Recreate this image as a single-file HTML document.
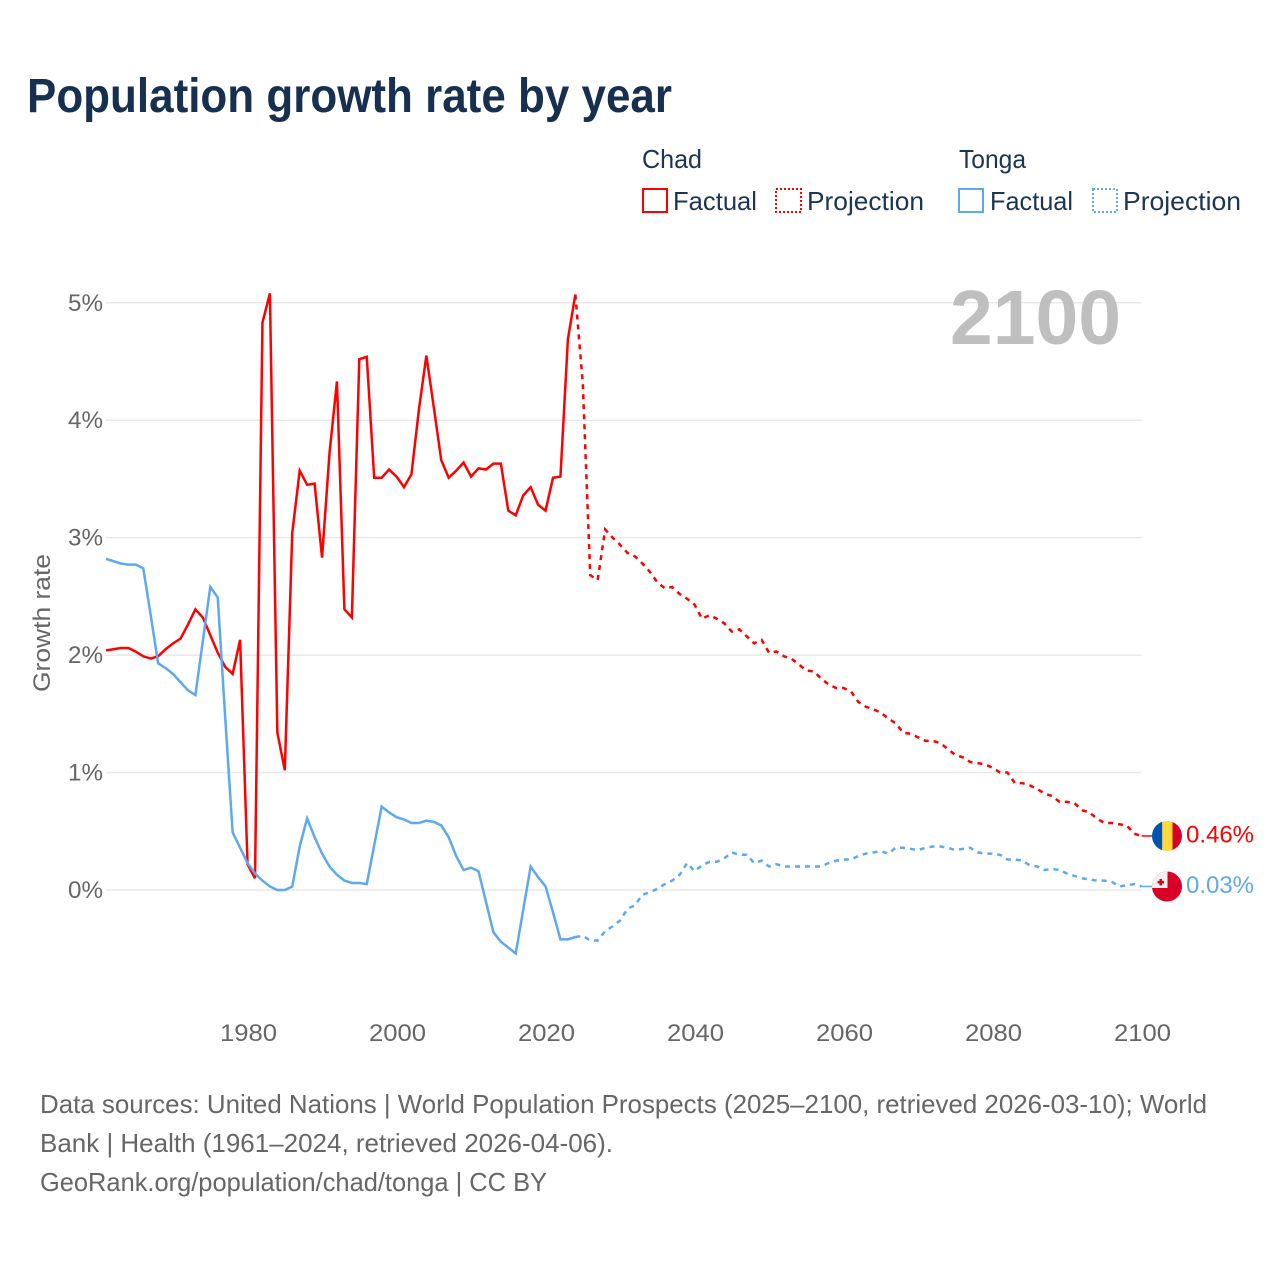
<!DOCTYPE html>
<html lang="en">
<head>
<meta charset="utf-8">
<title>Population growth rate by year</title>
<style>
html,body{margin:0;padding:0;background:#fff;}
svg{display:block;font-family:"Liberation Sans",sans-serif;}
</style>
</head>
<body>
<svg id="chart" xmlns="http://www.w3.org/2000/svg" width="1280" height="1280" viewBox="0 0 1280 1280">
  <defs>
    <clipPath id="flag-clip-chad"><circle id="clip-chad" cx="1167" cy="836" r="15"/></clipPath>
    <clipPath id="flag-clip-tonga"><circle id="clip-tonga" cx="1167" cy="886" r="15"/></clipPath>
  </defs>
  <rect x="0" y="0" width="1280" height="1280" fill="#ffffff"/>
  <text x="27" y="112" font-size="48" font-weight="700" fill="#17304f" textLength="645" lengthAdjust="spacingAndGlyphs">Population growth rate by year</text>

  <g font-size="26" fill="#1b3553">
    <text x="642" y="168" textLength="60" lengthAdjust="spacingAndGlyphs">Chad</text>
    <rect x="643" y="189" width="24" height="23" fill="none" stroke="#ff0000" stroke-width="2"/>
    <text x="673" y="210" textLength="84" lengthAdjust="spacingAndGlyphs">Factual</text>
    <rect x="776" y="189" width="25" height="23" fill="none" stroke="#ff0000" stroke-width="2" stroke-dasharray="2 2"/>
    <text x="807" y="210" textLength="117" lengthAdjust="spacingAndGlyphs">Projection</text>
    <text x="959" y="168" textLength="67" lengthAdjust="spacingAndGlyphs">Tonga</text>
    <rect x="959" y="189" width="24" height="23" fill="none" stroke="#5ea8ee" stroke-width="2"/>
    <text x="990" y="210" textLength="83" lengthAdjust="spacingAndGlyphs">Factual</text>
    <rect x="1093" y="189" width="24" height="23" fill="none" stroke="#5ea8ee" stroke-width="2" stroke-dasharray="2 2"/>
    <text x="1123" y="210" textLength="118" lengthAdjust="spacingAndGlyphs">Projection</text>
  </g>

  <g id="grid"></g>
  <g id="y-labels"></g>
  <g id="x-labels"></g>

  <text transform="translate(50,623) rotate(-90)" text-anchor="middle" font-size="24" fill="#666666" textLength="138" lengthAdjust="spacingAndGlyphs">Growth rate</text>
  <text x="950" y="344" font-size="77" font-weight="700" fill="#bfbfbf" textLength="171" lengthAdjust="spacingAndGlyphs">2100</text>

  <g id="series"></g>

  <g id="flag-chad" clip-path="url(#flag-clip-chad)">
    <rect class="flag-part" data-h="30" data-dy="-15" x="1152" width="10.3" height="30" fill="#0052b4"/>
    <rect class="flag-part" data-h="30" data-dy="-15" x="1162.3" width="10.2" height="30" fill="#ffd83c"/>
    <rect class="flag-part" data-h="30" data-dy="-15" x="1172.5" width="10" height="30" fill="#d80027"/>
  </g>
  <g id="flag-tonga" clip-path="url(#flag-clip-tonga)">
    <rect class="flag-part" data-dy="-15" x="1152" width="30" height="30" fill="#d80027"/>
    <rect class="flag-part" data-dy="-15" x="1152" width="15.5" height="16.5" fill="#f0f0f0"/>
    <rect class="flag-part" data-dy="-7.5" x="1159.5" width="2.6" height="6.4" fill="#d80027"/>
    <rect class="flag-part" data-dy="-5.6" x="1157.6" width="6.4" height="2.6" fill="#d80027"/>
  </g>

  <text id="label-chad" x="1186" y="842" font-size="24" fill="#ff0000" textLength="68" lengthAdjust="spacingAndGlyphs"></text>
  <text id="label-tonga" x="1186" y="892" font-size="24" fill="#5ea8ee" textLength="68" lengthAdjust="spacingAndGlyphs"></text>

  <g font-size="26" fill="#666666">
    <text x="40" y="1113" textLength="1167" lengthAdjust="spacingAndGlyphs">Data sources: United Nations | World Population Prospects (2025–2100, retrieved 2026-03-10); World</text>
    <text x="40" y="1152" textLength="573" lengthAdjust="spacingAndGlyphs">Bank | Health (1961–2024, retrieved 2026-04-06).</text>
    <text x="40" y="1191" textLength="507" lengthAdjust="spacingAndGlyphs">GeoRank.org/population/chad/tonga | CC BY</text>
  </g>
</svg>

<script>
var factualFirstYear = 1961;
var projectionFirstYear = 2024;

var yTickValues = [0, 1, 2, 3, 4, 5];
var yTickLabels = ["0%", "1%", "2%", "3%", "4%", "5%"];
var xTickYears = [1980, 2000, 2020, 2040, 2060, 2080, 2100];
var xTickLabels = ["1980", "2000", "2020", "2040", "2060", "2080", "2100"];

var chadFactual = [
  2.04, 2.05, 2.06, 2.06, 2.03, 1.99, 1.97, 1.99, 2.05, 2.10,
  2.14, 2.26, 2.39, 2.32, 2.17, 2.02, 1.90, 1.84, 2.13, 0.22,
  0.10, 4.83, 5.08, 1.34, 1.02, 3.04, 3.57, 3.45, 3.46, 2.83,
  3.72, 4.33, 2.39, 2.32, 4.52, 4.54, 3.51, 3.51, 3.58, 3.52,
  3.43, 3.54, 4.09, 4.55, 4.11, 3.66, 3.51, 3.57, 3.64, 3.52,
  3.59, 3.58, 3.63, 3.63, 3.23, 3.19, 3.36, 3.43, 3.28, 3.23,
  3.51, 3.52, 4.69, 5.07
];

var chadProjection = [
  5.07, 4.31, 2.68, 2.64, 3.07, 3.00, 2.94, 2.87, 2.84, 2.78,
  2.71, 2.62, 2.57, 2.58, 2.52, 2.48, 2.43, 2.31, 2.34, 2.31,
  2.27, 2.20, 2.22, 2.16, 2.10, 2.13, 2.02, 2.03, 1.99, 1.97,
  1.92, 1.87, 1.86, 1.80, 1.75, 1.72, 1.72, 1.69, 1.60, 1.56,
  1.54, 1.51, 1.46, 1.42, 1.34, 1.33, 1.30, 1.27, 1.27, 1.25,
  1.20, 1.15, 1.13, 1.09, 1.08, 1.07, 1.04, 1.00, 1.00, 0.91,
  0.91, 0.89, 0.86, 0.82, 0.80, 0.75, 0.75, 0.74, 0.68, 0.66,
  0.61, 0.57, 0.57, 0.56, 0.55, 0.48, 0.46
];

var tongaFactual = [
  2.82, 2.80, 2.78, 2.77, 2.77, 2.74, 2.34, 1.93, 1.89, 1.84,
  1.77, 1.70, 1.66, 2.12, 2.58, 2.49, 1.47, 0.49, 0.36, 0.23,
  0.14, 0.08, 0.03, 0.00, 0.00, 0.03, 0.37, 0.61, 0.45, 0.31,
  0.20, 0.13, 0.08, 0.06, 0.06, 0.05, 0.38, 0.71, 0.66, 0.62,
  0.60, 0.57, 0.57, 0.59, 0.58, 0.55, 0.45, 0.29, 0.17, 0.19,
  0.16, -0.10, -0.36, -0.44, -0.49, -0.54, -0.17, 0.20, 0.11, 0.03,
  -0.19, -0.42, -0.42, -0.40
];

var tongaProjection = [
  -0.40, -0.39, -0.43, -0.43, -0.35, -0.31, -0.26, -0.16, -0.13, -0.04,
  -0.02, 0.01, 0.05, 0.08, 0.13, 0.23, 0.16, 0.21, 0.24, 0.24,
  0.27, 0.32, 0.30, 0.30, 0.23, 0.25, 0.20, 0.22, 0.20, 0.20,
  0.20, 0.20, 0.20, 0.20, 0.23, 0.25, 0.26, 0.26, 0.29, 0.31,
  0.32, 0.33, 0.31, 0.36, 0.36, 0.35, 0.34, 0.36, 0.37, 0.37,
  0.36, 0.34, 0.35, 0.36, 0.32, 0.31, 0.31, 0.30, 0.26, 0.26,
  0.25, 0.21, 0.20, 0.17, 0.18, 0.17, 0.14, 0.12, 0.10, 0.09,
  0.08, 0.08, 0.07, 0.03, 0.04, 0.05, 0.03
];

var SVG_NS = "http://www.w3.org/2000/svg";
var COLOR_CHAD = "#ff0000";
var COLOR_TONGA = "#5ea8ee";

function xScale(year) {
  return 106 + (year - 1961) * 7.45;
}
function yScale(value) {
  return 890 - value * 117.45;
}
function linePath(values, firstYear) {
  var d = "";
  for (var i = 0; i < values.length; i++) {
    d += (i === 0 ? "M" : "L") + xScale(firstYear + i).toFixed(2) + " " + yScale(values[i]).toFixed(2);
  }
  return d;
}
function styleLine(el, color, dash) {
  el.setAttribute("fill", "none");
  el.setAttribute("stroke", color);
  el.setAttribute("stroke-width", "2.5");
  el.setAttribute("stroke-linejoin", "miter");
  if (dash) {
    el.setAttribute("stroke-dasharray", dash);
  }
}

var gridGroup = document.getElementById("grid");
var yLabelGroup = document.getElementById("y-labels");
var xLabelGroup = document.getElementById("x-labels");
var seriesGroup = document.getElementById("series");

yTickValues.forEach(function (v, i) {
  var gridLine = document.createElementNS(SVG_NS, "line");
  
  
  gridLine.setAttribute("x1", xScale(1961));
  gridLine.setAttribute("x2", xScale(2100));
  gridLine.setAttribute("y1", yScale(v));
  gridLine.setAttribute("y2", yScale(v));
  gridLine.setAttribute("stroke", "#e8e8e8");
  gridLine.setAttribute("stroke-width", "1.5");
  gridGroup.appendChild(gridLine);

  var tickLabel = document.createElementNS(SVG_NS, "text");
  
  
  tickLabel.setAttribute("x", "68");
  tickLabel.setAttribute("y", yScale(v) + 8);
  tickLabel.setAttribute("font-size", "24");
  tickLabel.setAttribute("fill", "#666666");
  tickLabel.setAttribute("textLength", "35");
  tickLabel.setAttribute("lengthAdjust", "spacingAndGlyphs");
  tickLabel.textContent = yTickLabels[i];
  yLabelGroup.appendChild(tickLabel);
});

xTickYears.forEach(function (year, i) {
  var tickLabel = document.createElementNS(SVG_NS, "text");
  
  
  tickLabel.setAttribute("x", xScale(year) + 1);
  tickLabel.setAttribute("y", "1041");
  tickLabel.setAttribute("text-anchor", "middle");
  tickLabel.setAttribute("font-size", "24");
  tickLabel.setAttribute("fill", "#666666");
  tickLabel.setAttribute("textLength", "57");
  tickLabel.setAttribute("lengthAdjust", "spacingAndGlyphs");
  tickLabel.textContent = xTickLabels[i];
  xLabelGroup.appendChild(tickLabel);
});

var chadFactualLine = document.createElementNS(SVG_NS, "path");


chadFactualLine.setAttribute("d", linePath(chadFactual, factualFirstYear));
styleLine(chadFactualLine, COLOR_CHAD);
seriesGroup.appendChild(chadFactualLine);

var chadProjectionLine = document.createElementNS(SVG_NS, "path");


chadProjectionLine.setAttribute("d", linePath(chadProjection, projectionFirstYear));
styleLine(chadProjectionLine, COLOR_CHAD, "5 5");
seriesGroup.appendChild(chadProjectionLine);

var tongaFactualLine = document.createElementNS(SVG_NS, "path");


tongaFactualLine.setAttribute("d", linePath(tongaFactual, factualFirstYear));
styleLine(tongaFactualLine, COLOR_TONGA);
seriesGroup.appendChild(tongaFactualLine);

var tongaProjectionLine = document.createElementNS(SVG_NS, "path");


tongaProjectionLine.setAttribute("d", linePath(tongaProjection, projectionFirstYear));
styleLine(tongaProjectionLine, COLOR_TONGA, "5 5");
seriesGroup.appendChild(tongaProjectionLine);

var chadEnd = chadProjection[chadProjection.length - 1];
var tongaEnd = tongaProjection[tongaProjection.length - 1];

var chadConnector = document.createElementNS(SVG_NS, "line");


chadConnector.setAttribute("x1", xScale(2100));
chadConnector.setAttribute("x2", "1152");
chadConnector.setAttribute("y1", yScale(chadEnd));
chadConnector.setAttribute("y2", yScale(chadEnd));
chadConnector.setAttribute("stroke", COLOR_CHAD);
chadConnector.setAttribute("stroke-width", "1.5");
seriesGroup.appendChild(chadConnector);

var tongaConnector = document.createElementNS(SVG_NS, "line");


tongaConnector.setAttribute("x1", xScale(2100));
tongaConnector.setAttribute("x2", "1152");
tongaConnector.setAttribute("y1", yScale(tongaEnd));
tongaConnector.setAttribute("y2", yScale(tongaEnd));
tongaConnector.setAttribute("stroke", COLOR_TONGA);
tongaConnector.setAttribute("stroke-width", "1.5");
seriesGroup.appendChild(tongaConnector);

function placeFlag(groupId, clipId, labelId, value) {
  var cy = yScale(value);
  document.getElementById(clipId).setAttribute("cy", cy);
  var parts = document.getElementById(groupId).querySelectorAll(".flag-part");
  for (var i = 0; i < parts.length; i++) {
    parts[i].setAttribute("y", cy + parseFloat(parts[i].getAttribute("data-dy")));
  }
  var label = document.getElementById(labelId);
  label.setAttribute("y", cy + 6.5);
  label.textContent = value.toFixed(2) + "%";
}
placeFlag("flag-chad", "clip-chad", "label-chad", chadEnd);
placeFlag("flag-tonga", "clip-tonga", "label-tonga", tongaEnd);
</script>
</body>
</html>
